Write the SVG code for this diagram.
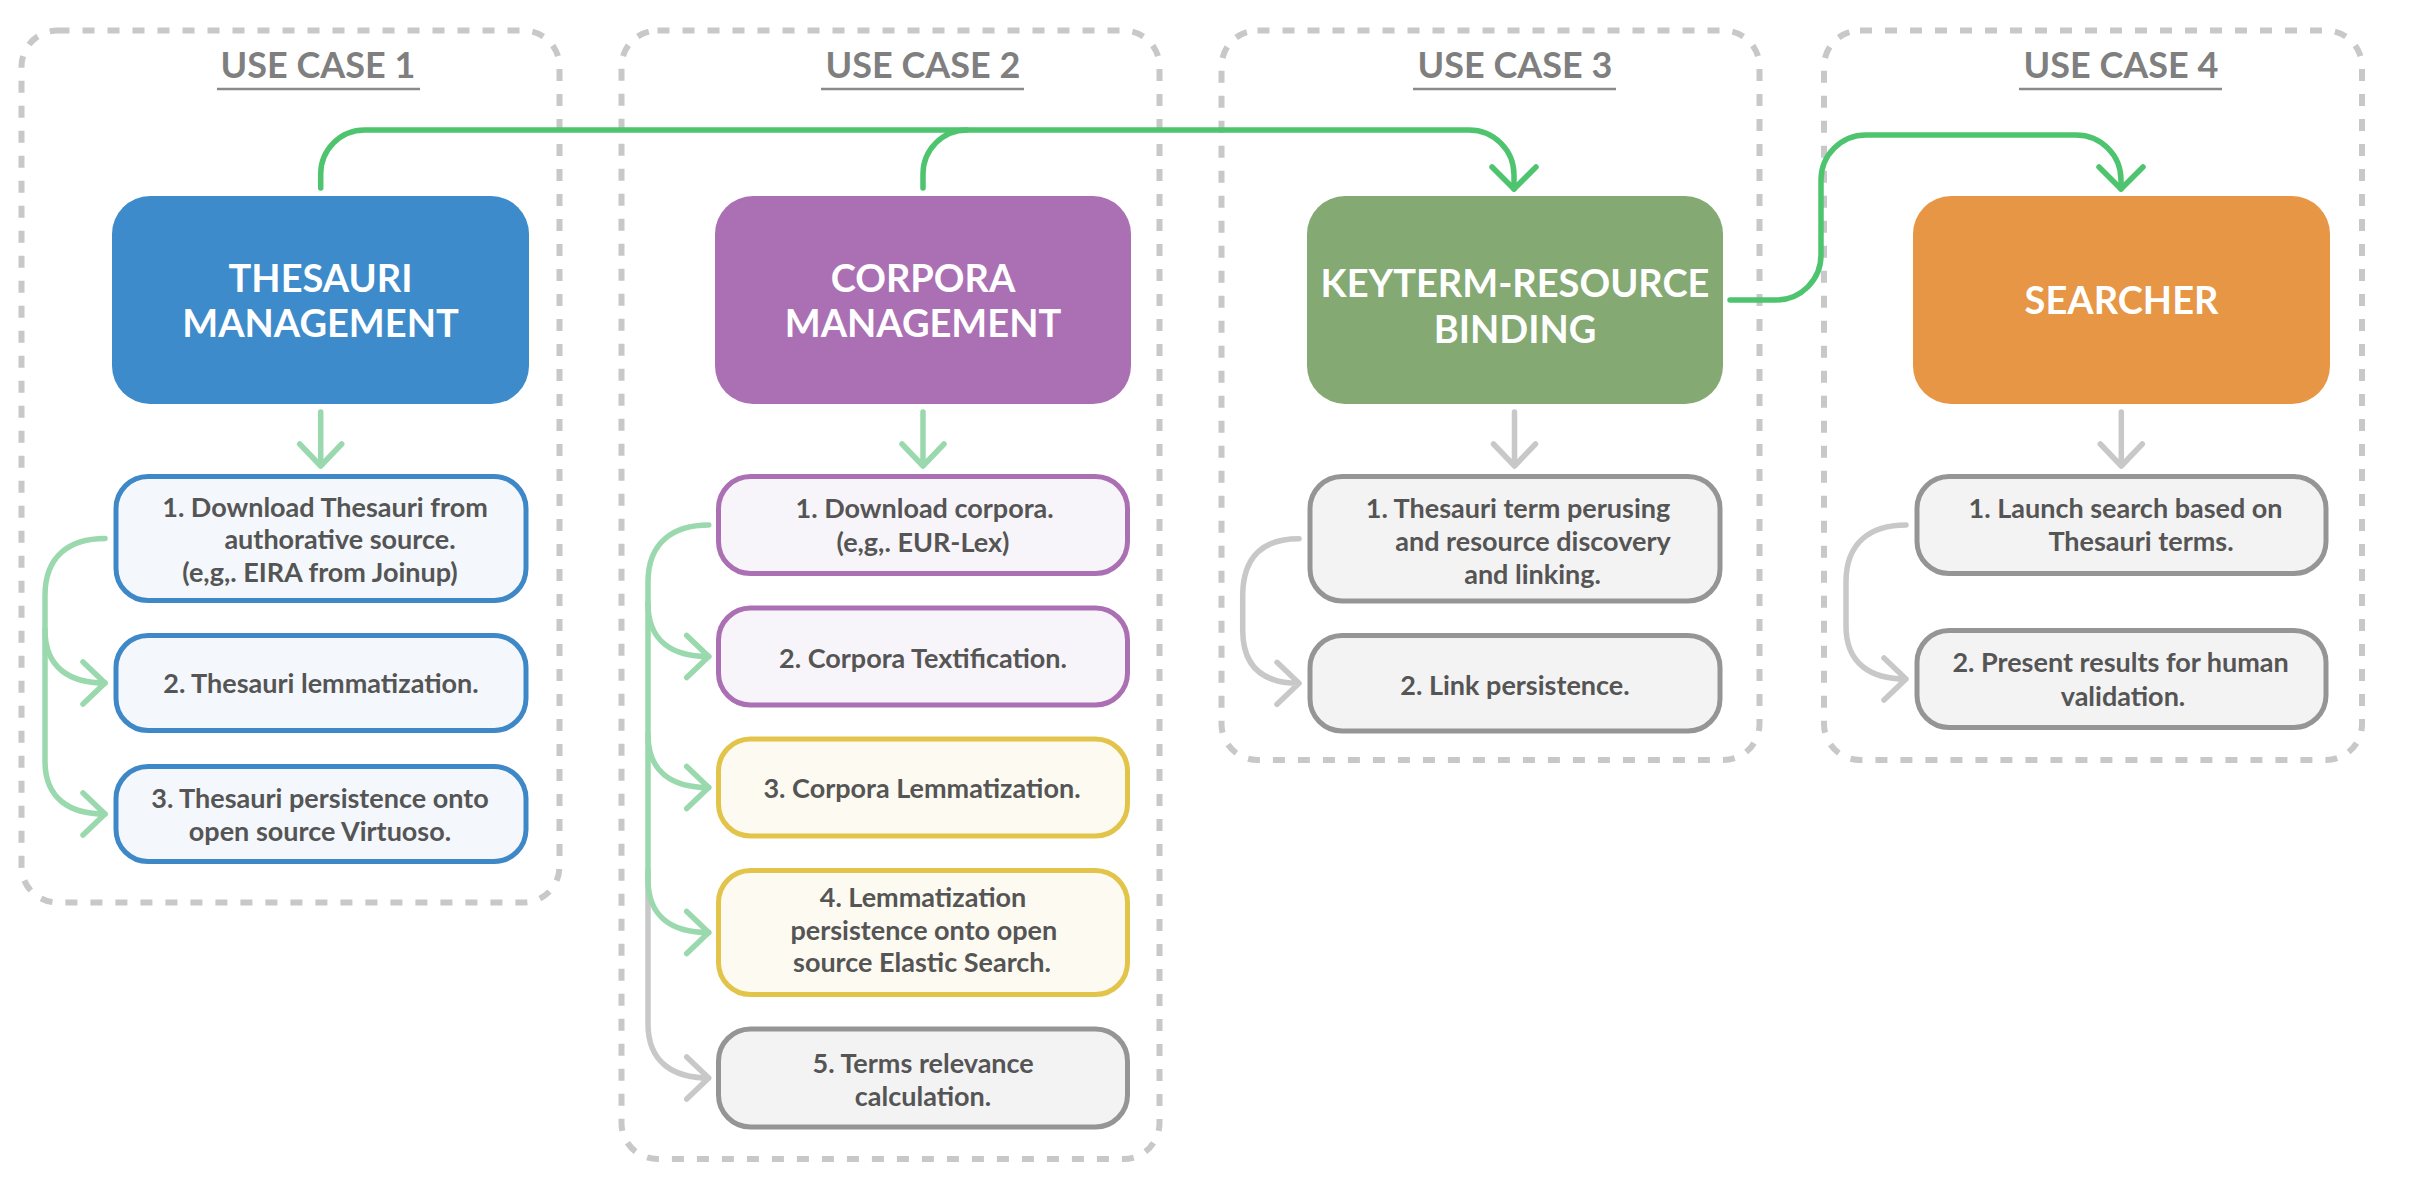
<svg xmlns="http://www.w3.org/2000/svg" width="2413" height="1192" viewBox="0 0 2413 1192">
<defs>
<style>
.uc{fill:none;stroke:#c8c8c8;stroke-width:6;stroke-dasharray:12 13}
.ttl{font-family:Lato,"Liberation Sans",sans-serif;font-weight:700;font-size:36px;fill:#7f7f7f;text-anchor:middle}
.ul{stroke:#8a8a8a;stroke-width:2.5}
.mt{font-family:Lato,"Liberation Sans",sans-serif;font-weight:700;font-size:38px;fill:#ffffff;text-anchor:middle}
.st{font-family:Lato,"Liberation Sans",sans-serif;font-weight:700;font-size:27px;fill:#555555;text-anchor:middle}
.sb{stroke-width:5}
.blue{fill:#f4f8fc;stroke:#3f88c8}
.purple{fill:#f8f5fa;stroke:#ab70b3}
.yellow{fill:#fdfbf1;stroke:#e2c44b}
.grey{fill:#f3f3f3;stroke:#959595}
.cg{fill:none;stroke:#4fc46f;stroke-width:5.5;stroke-linecap:round;stroke-linejoin:round}
.cl{fill:none;stroke:#9ad8ad;stroke-width:5.5;stroke-linecap:round;stroke-linejoin:round}
.cy{fill:none;stroke:#c8c8c8;stroke-width:5.5;stroke-linecap:round;stroke-linejoin:round}
</style>
</defs>
<rect width="2413" height="1192" fill="#ffffff"/>

<g id="usecase1">
<rect class="uc" x="21.5" y="30.5" width="538" height="872" rx="36"/>
<text class="ttl" x="318" y="78">USE CASE 1</text>
<line class="ul" x1="217" y1="89" x2="420" y2="89"/>
</g>
<g id="usecase2">
<rect class="uc" x="621.5" y="30.5" width="538" height="1128.5" rx="36"/>
<text class="ttl" x="923" y="78">USE CASE 2</text>
<line class="ul" x1="821" y1="89" x2="1024" y2="89"/>
</g>
<g id="usecase3">
<rect class="uc" x="1221.5" y="30.5" width="538" height="729.5" rx="36"/>
<text class="ttl" x="1515" y="78">USE CASE 3</text>
<line class="ul" x1="1413" y1="89" x2="1616" y2="89"/>
</g>
<g id="usecase4">
<rect class="uc" x="1824" y="30.5" width="538" height="729.5" rx="36"/>
<text class="ttl" x="2121" y="78">USE CASE 4</text>
<line class="ul" x1="2019" y1="89" x2="2222" y2="89"/>
</g>

<g id="connectors">
<!-- top green flows -->
<path class="cg" d="M320.7,188 L320.7,174 A44,44 0 0 1 364.7,130 L1469,130 A45,45 0 0 1 1514,175 L1514,189"/>
<path class="cg" d="M1492,167 L1514,189 L1536,167"/>
<path class="cg" d="M923,188 L923,174 A44,44 0 0 1 967,130"/>
<path class="cg" d="M1730,300 L1776,300 A45,45 0 0 0 1821,255 L1821,180 A45,45 0 0 1 1866,135 L2076,135 A45,45 0 0 1 2121,180 L2121,189"/>
<path class="cg" d="M2099,167 L2121,189 L2143,167"/>
<!-- main to sub arrows -->
<path class="cl" d="M320.7,412 L320.7,466 M299.7,444 L320.7,466 L341.7,444"/>
<path class="cl" d="M923,412 L923,466 M902,444 L923,466 L944,444"/>
<path class="cy" d="M1514.5,412 L1514.5,466 M1493.5,444 L1514.5,466 L1535.5,444"/>
<path class="cy" d="M2121.3,412 L2121.3,466 M2100.3,444 L2121.3,466 L2142.3,444"/>
<!-- UC1 branches -->
<path class="cl" d="M105,538.5 C70,538.5 45,555.5 45,595.5 L45,761 C45,799 70,814 105,814"/>
<path class="cl" d="M45,630 C45,668 70,683 105,683"/>
<path class="cl" d="M83,662 L105,683 L83,704 M83,793 L105,814 L83,835"/>
<!-- UC2 branches -->
<path class="cy" d="M648,870 L648,1024 C648,1062 673,1078 708.7,1078 M686.7,1057 L708.7,1078 L686.7,1099"/>
<path class="cl" d="M708.7,525 C673.7,525 648,542 648,582 L648,879.5 C648,917.5 673,932.5 708.7,932.5"/>
<path class="cl" d="M648,603.5 C648,641.5 673,656.5 708.7,656.5"/>
<path class="cl" d="M648,734.5 C648,772.5 673,787.5 708.7,787.5"/>
<path class="cl" d="M686.7,635.5 L708.7,656.5 L686.7,677.5 M686.7,766.5 L708.7,787.5 L686.7,808.5 M686.7,911.5 L708.7,932.5 L686.7,953.5"/>
<!-- UC3 branch -->
<path class="cy" d="M1299,538.7 C1264,538.7 1242.7,555.7 1242.7,595.7 L1242.7,630 C1242.7,668 1264,683.3 1299,683.3 M1277,662.3 L1299,683.3 L1277,704.3"/>
<!-- UC4 branch -->
<path class="cy" d="M1906,525 C1871,525 1846,542 1846,582 L1846,626 C1846,664 1871,679 1906,679 M1884,658 L1906,679 L1884,700"/>
</g>

<g id="thesauri-management">
<rect x="112" y="196" width="417" height="208" rx="38" fill="#3d8bca"/>
<text class="mt" x="320.5" y="292">THESAURI</text>
<text class="mt" x="320.5" y="337">MANAGEMENT</text>
</g>
<g id="corpora-management">
<rect x="715" y="196" width="416" height="208" rx="38" fill="#ab70b3"/>
<text class="mt" x="923" y="292">CORPORA</text>
<text class="mt" x="923" y="337">MANAGEMENT</text>
</g>
<g id="keyterm-resource-binding">
<rect x="1307" y="196" width="416" height="208" rx="38" fill="#84a972"/>
<text class="mt" x="1515" y="297">KEYTERM-RESOURCE</text>
<text class="mt" x="1515" y="343">BINDING</text>
</g>
<g id="searcher">
<rect x="1913" y="196" width="417" height="208" rx="38" fill="#e69645"/>
<text class="mt" x="2121.5" y="314">SEARCHER</text>
</g>

<g id="uc1-step1">
<rect class="sb blue" x="116" y="476.5" width="410" height="124" rx="32"/>
<text class="st" x="325" y="517">1. Download Thesauri from</text>
<text class="st" x="340" y="549">authorative source.</text>
<text class="st" x="320" y="582">(e,g,. EIRA from Joinup)</text>
</g>
<g id="uc1-step2">
<rect class="sb blue" x="116" y="635.5" width="410" height="95" rx="32"/>
<text class="st" x="321" y="693">2. Thesauri lemmatization.</text>
</g>
<g id="uc1-step3">
<rect class="sb blue" x="116" y="766.5" width="410" height="95" rx="32"/>
<text class="st" x="320" y="808">3. Thesauri persistence onto</text>
<text class="st" x="320" y="841">open source Virtuoso.</text>
</g>

<g id="uc2-step1">
<rect class="sb purple" x="718.5" y="476.5" width="409" height="97" rx="32"/>
<text class="st" x="924.6" y="518">1. Download corpora.</text>
<text class="st" x="923" y="552">(e,g,. EUR-Lex)</text>
</g>
<g id="uc2-step2">
<rect class="sb purple" x="718.5" y="608" width="409" height="97" rx="32"/>
<text class="st" x="923" y="668">2. Corpora Textification.</text>
</g>
<g id="uc2-step3">
<rect class="sb yellow" x="718.5" y="739" width="409" height="97" rx="32"/>
<text class="st" x="922" y="798">3. Corpora Lemmatization.</text>
</g>
<g id="uc2-step4">
<rect class="sb yellow" x="718.5" y="870.5" width="409" height="124" rx="32"/>
<text class="st" x="923" y="907">4. Lemmatization</text>
<text class="st" x="923.8" y="940">persistence onto open</text>
<text class="st" x="922" y="972">source Elastic Search.</text>
</g>
<g id="uc2-step5">
<rect class="sb grey" x="718.5" y="1029" width="409" height="98" rx="32"/>
<text class="st" x="923.2" y="1073">5. Terms relevance</text>
<text class="st" x="923" y="1106">calculation.</text>
</g>

<g id="uc3-step1">
<rect class="sb grey" x="1310" y="476.5" width="410" height="124.5" rx="32"/>
<text class="st" x="1518" y="518">1. Thesauri term perusing</text>
<text class="st" x="1533" y="551">and resource discovery</text>
<text class="st" x="1532.6" y="584">and linking.</text>
</g>
<g id="uc3-step2">
<rect class="sb grey" x="1310" y="635.5" width="410" height="95.5" rx="32"/>
<text class="st" x="1515" y="695">2. Link persistence.</text>
</g>

<g id="uc4-step1">
<rect class="sb grey" x="1917" y="476.5" width="409" height="97" rx="32"/>
<text class="st" x="2125.6" y="518">1. Launch search based on</text>
<text class="st" x="2141" y="551">Thesauri terms.</text>
</g>
<g id="uc4-step2">
<rect class="sb grey" x="1917" y="630.5" width="409" height="97" rx="32"/>
<text class="st" x="2120.6" y="672">2. Present results for human</text>
<text class="st" x="2123" y="706">validation.</text>
</g>
</svg>
